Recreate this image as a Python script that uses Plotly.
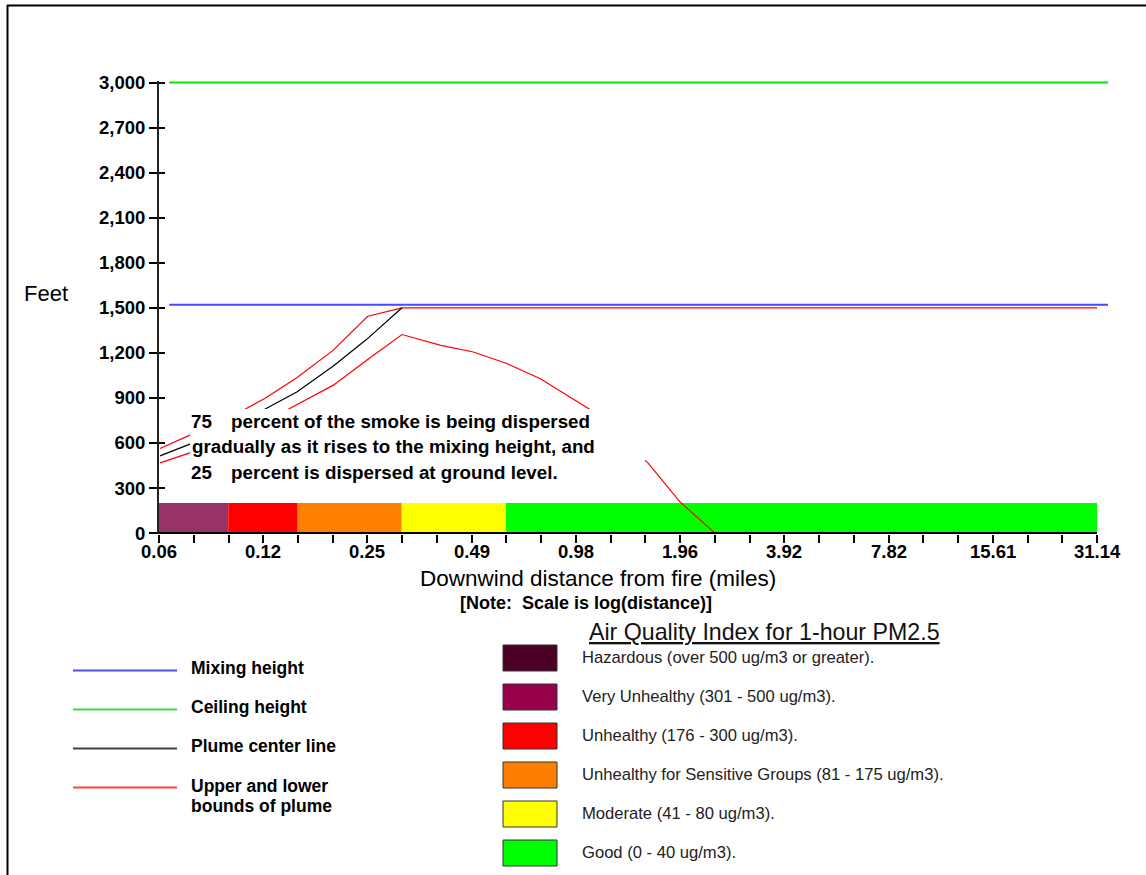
import math
import plotly.graph_objects as go

# ---------------- data ----------------
tick_positions = [0.06, 0.1202, 0.2407, 0.4822, 0.966, 1.935, 3.875, 7.763, 15.55, 31.14]
tick_labels = ["0.06", "0.12", "0.25", "0.49", "0.98", "1.96", "3.92", "7.82", "15.61", "31.14"]
y_ticks = [0, 300, 600, 900, 1200, 1500, 1800, 2100, 2400, 2700, 3000]
y_tick_labels = ["0", "300", "600", "900", "1,200", "1,500", "1,800", "2,100", "2,400", "2,700", "3,000"]

ceiling_x = [0.0642, 33.5]
ceiling_y = [3000, 3000]
mixing_x = [0.0642, 33.5]
mixing_y = [1520, 1520]

upper_x = [0.0604, 0.0737, 0.1064, 0.1214, 0.1503, 0.1918, 0.2411, 0.3031, 31.14]
upper_y = [563, 652, 825, 896, 1035, 1218, 1444, 1500, 1500]

center_x = [0.0604, 0.0737, 0.1214, 0.1503, 0.1918, 0.2395, 0.3031]
center_y = [514, 592, 825, 940, 1113, 1290, 1500]

lower_x = [0.0604, 0.0737, 0.1420, 0.1918, 0.2411, 0.3031, 0.3903, 0.4874, 0.609, 0.760, 1.061, 1.565, 1.932, 2.44]
lower_y = [468, 534, 825, 985, 1156, 1322, 1251, 1206, 1129, 1029, 823, 464, 208, 0]

aqi_bounds = [0.06, 0.0952, 0.1512, 0.3025, 0.606, 31.14]
aqi_bar_colors = ["#993366", "#FF0000", "#FF8000", "#FFFF00", "#00FF00"]
aqi_bar_top = 200

aqi_labels = [
    "Hazardous (over 500 ug/m3 or greater).",
    "Very Unhealthy (301 - 500 ug/m3).",
    "Unhealthy (176 - 300 ug/m3).",
    "Unhealthy for Sensitive Groups (81 - 175 ug/m3).",
    "Moderate (41 - 80 ug/m3).",
    "Good (0 - 40 ug/m3).",
]
aqi_colors = ["#4C0026", "#99004C", "#FF0000", "#FF7E00", "#FFFF00", "#00FF00"]

line_legend_labels = ["Mixing height", "Ceiling height", "Plume center line", "Upper and lower", "bounds of plume"]
line_legend_colors = ["#5050E0", "#40D840", "#404040", "#FF4040"]

note_lines = [
    ("75", "percent of the smoke is being dispersed"),
    ("", "gradually as it rises to the mixing height, and"),
    ("25", "percent is dispersed at ground level."),
]

# ---------------- layout helpers ----------------
W, H = 1146, 875
PL, PR, PT, PB = 159, 1108, 81, 534


def xp(px):
    return (px - PL) / (PR - PL)


def yp(py):
    return (PB - py) / (PB - PT)


FONT = "Liberation Sans, Arial, sans-serif"
Y_RANGE = [-6, 3010]

fig = go.Figure()

# AQI bar
for i, c in enumerate(aqi_bar_colors):
    x0, x1 = aqi_bounds[i], aqi_bounds[i + 1]
    fig.add_trace(go.Scatter(
        x=[x0, x1, x1, x0, x0], y=[0, 0, aqi_bar_top, aqi_bar_top, 0],
        mode="lines", fill="toself", fillcolor=c, line=dict(width=0, color=c),
        hoverinfo="skip", showlegend=False))

fig.add_trace(go.Scatter(x=ceiling_x, y=ceiling_y, mode="lines",
                         line=dict(color="#00E800", width=2), showlegend=False))
fig.add_trace(go.Scatter(x=mixing_x, y=mixing_y, mode="lines",
                         line=dict(color="#4848FF", width=2), showlegend=False))
fig.add_trace(go.Scatter(x=upper_x, y=upper_y, mode="lines",
                         line=dict(color="#FF0000", width=1.2), showlegend=False))
fig.add_trace(go.Scatter(x=center_x, y=center_y, mode="lines",
                         line=dict(color="#000000", width=1.2), showlegend=False))
fig.add_trace(go.Scatter(x=lower_x, y=lower_y, mode="lines",
                         line=dict(color="#FF0000", width=1.2), showlegend=False))
# x axis baseline
fig.add_trace(go.Scatter(x=[tick_positions[0], tick_positions[-1]], y=[0, 0], mode="lines",
                         line=dict(color="#000000", width=2), showlegend=False, hoverinfo="skip"))
# helper trace so the overlaying y axis (inner half of the y ticks) is drawn
fig.add_trace(go.Scatter(x=[tick_positions[0]], y=[0], mode="lines", yaxis="y2",
                         showlegend=False, hoverinfo="skip"))

# minor ticks: two between each major (thirds in log space)
minor_vals = []
for a, b in zip(tick_positions[:-1], tick_positions[1:]):
    la, lb = math.log10(a), math.log10(b)
    minor_vals += [10 ** (la + (lb - la) / 3), 10 ** (la + 2 * (lb - la) / 3)]

shapes = []
annotations = []

# white box behind the note text
shapes.append(dict(type="rect", xref="paper", yref="paper", x0=xp(190), x1=xp(645),
                   y0=yp(487), y1=yp(409), fillcolor="white", line=dict(width=0), layer="above"))

# frame
shapes.append(dict(type="line", xref="paper", yref="paper", x0=xp(7), x1=xp(1146), y0=yp(5.5), y1=yp(5.5),
                   line=dict(color="#000", width=2)))
shapes.append(dict(type="line", xref="paper", yref="paper", x0=xp(7.5), x1=xp(7.5), y0=yp(5), y1=yp(875),
                   line=dict(color="#000", width=2)))

# x tick labels (placed just under the tick marks)
for pos, lab in zip(tick_positions, tick_labels):
    annotations.append(dict(text=lab, xref="x", yref="paper", x=math.log10(pos), y=yp(551),
                            xanchor="center", yanchor="middle", showarrow=False,
                            font=dict(family=FONT, size=18.5, color="#000", weight="bold")))

# note text
note_y = [421.5, 446.5, 472.5]
NOTE_FONT = dict(family=FONT, size=18.8, color="#000", weight="bold")
for (num, txt), yy in zip(note_lines, note_y):
    if num:
        annotations.append(dict(text=num, xref="paper", yref="paper", x=xp(188.5), y=yp(yy),
                                xanchor="left", yanchor="middle", showarrow=False, font=NOTE_FONT))
        annotations.append(dict(text=txt, xref="paper", yref="paper", x=xp(228.5), y=yp(yy),
                                xanchor="left", yanchor="middle", showarrow=False, font=NOTE_FONT))
    else:
        annotations.append(dict(text=txt, xref="paper", yref="paper", x=xp(189.5), y=yp(yy),
                                xanchor="left", yanchor="middle", showarrow=False, font=NOTE_FONT))

# axis titles
annotations.append(dict(text="Feet", xref="paper", yref="paper", x=xp(46), y=yp(293),
                        xanchor="center", yanchor="middle", showarrow=False,
                        font=dict(family=FONT, size=22, color="#000")))
annotations.append(dict(text="Downwind distance from fire (miles)", xref="paper", yref="paper",
                        x=xp(598), y=yp(578), xanchor="center", yanchor="middle", showarrow=False,
                        font=dict(family=FONT, size=22.5, color="#000")))
annotations.append(dict(text="[Note:\u00a0\u00a0Scale is log(distance)]", xref="paper", yref="paper",
                        x=xp(586), y=yp(603), xanchor="center", yanchor="middle", showarrow=False,
                        font=dict(family=FONT, size=18, color="#000", weight="bold")))

# line legend
leg_line_y = [670.5, 709.5, 748.5, 787.5]
leg_text_y = [668, 707, 746, 786, 806]
for c, yy in zip(line_legend_colors, leg_line_y):
    shapes.append(dict(type="line", xref="paper", yref="paper", x0=xp(73), x1=xp(177),
                       y0=yp(yy), y1=yp(yy), line=dict(color=c, width=2)))
for t, yy in zip(line_legend_labels, leg_text_y):
    annotations.append(dict(text=t, xref="paper", yref="paper", x=xp(189), y=yp(yy),
                            xanchor="left", yanchor="middle", showarrow=False,
                            font=dict(family=FONT, size=17.5, color="#000", weight="bold")))

# AQI legend
annotations.append(dict(text="<u>Air Quality Index for 1-hour PM2.5</u>", xref="paper", yref="paper",
                        x=xp(764), y=yp(632), xanchor="center", yanchor="middle", showarrow=False,
                        font=dict(family=FONT, size=23.2, color="#111")))
sw_top = [645, 684, 723, 762, 801, 840]
for lab, c, t0 in zip(aqi_labels, aqi_colors, sw_top):
    shapes.append(dict(type="rect", xref="paper", yref="paper", x0=xp(503), x1=xp(557),
                       y0=yp(t0 + 26), y1=yp(t0), fillcolor=c, line=dict(color="#333", width=1)))
    annotations.append(dict(text=lab, xref="paper", yref="paper", x=xp(579.5), y=yp(t0 + 12),
                            xanchor="left", yanchor="middle", showarrow=False,
                            font=dict(family=FONT, size=16.6, color="#222")))

fig.update_layout(
    width=W, height=H,
    margin=dict(l=PL, r=W - PR, t=PT, b=H - PB, pad=0),
    paper_bgcolor="white", plot_bgcolor="white",
    showlegend=False,
    shapes=shapes, annotations=annotations,
    xaxis=dict(type="log", range=[math.log10(0.06), math.log10(33.5)],
               showline=False, showgrid=False, zeroline=False,
               tickmode="array", tickvals=tick_positions, showticklabels=False,
               ticks="outside", ticklen=8, tickwidth=1.5, tickcolor="#000",
               minor=dict(tickmode="array", tickvals=minor_vals, ticks="outside",
                          ticklen=8, tickwidth=1.5, tickcolor="#000", showgrid=False)),
    yaxis=dict(range=Y_RANGE, showline=True, linecolor="#222", linewidth=2,
               showgrid=False, zeroline=False,
               tickmode="array", tickvals=y_ticks, ticktext=y_tick_labels,
               ticks="outside", ticklen=8, tickwidth=1.5, tickcolor="#000",
               tickfont=dict(family=FONT, size=18.5, color="#000", weight="bold")),
    yaxis2=dict(range=Y_RANGE, overlaying="y", side="left", showline=False,
                showgrid=False, zeroline=False, showticklabels=False,
                tickmode="array", tickvals=y_ticks,
                ticks="inside", ticklen=6, tickwidth=1.5, tickcolor="#000"),
)

fig.write_html("out.html", config={"displayModeBar": False},
               post_script="document.body.style.margin='0';")
